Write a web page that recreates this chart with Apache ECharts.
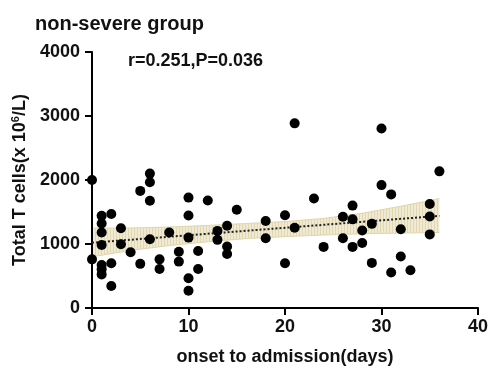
<!DOCTYPE html>
<html>
<head>
<meta charset="utf-8">
<script src="https://cdn.jsdelivr.net/npm/echarts@6/dist/echarts.min.js"></script>
<style>
  html, body { margin: 0; padding: 0; background: #fff; }
  #chart { width: 490px; height: 369px; }
</style>
</head>
<body>
<div id="chart"></div>
<script>
// days from onset to admission, and total T cells (x10^6/L)
const onsetDays = [
  0, 0,
  1, 1, 1, 1, 1, 1, 1,
  2, 2, 2,
  3, 3,
  4,
  5, 5,
  6, 6, 6, 6,
  7, 7,
  8,
  9, 9,
  10, 10, 10, 10, 10,
  11, 11,
  12,
  13, 13,
  14, 14, 14,
  15,
  18, 18,
  20, 20,
  21, 21,
  23,
  24,
  26, 26,
  27, 27, 27,
  28, 28,
  29, 29,
  30, 30,
  31, 31,
  32, 32,
  33,
  35, 35, 35,
  36
];
const tCells = [
  2000, 760,
  1440, 1320, 1180, 985, 670, 605, 525,
  1470, 700, 345,
  1245, 995,
  870,
  1830, 690,
  2100, 1965, 1675, 1075,
  760, 610,
  1180,
  880, 725,
  1725, 1445, 1100, 465, 270,
  890, 610,
  1680,
  1205, 1065,
  1285, 960, 845,
  1535,
  1360, 1090,
  1450, 700,
  2885, 1255,
  1710,
  955,
  1425, 1090,
  1600, 1385, 955,
  1210, 1015,
  1315, 705,
  2805, 1920,
  1775, 555,
  1230, 805,
  590,
  1625, 1430, 1150,
  2135
];

// fitted line end points and the confidence band
const fitDays = [0, 36];
const fitValues = [1020, 1440];
const bandDays = [0, 4, 8, 12, 16, 20, 24, 28, 32, 36];
const bandLower = [800, 900, 975, 1035, 1085, 1115, 1140, 1160, 1170, 1180];
const bandUpper = [1250, 1250, 1265, 1290, 1320, 1350, 1400, 1480, 1590, 1710];

const xTicks = [0, 10, 20, 30, 40];
const yTicks = [0, 1000, 2000, 3000, 4000];

// vertical hatch pattern used for the band
const hatch = document.createElement('canvas');
hatch.width = 3;
hatch.height = 4;
const hctx = hatch.getContext('2d');
hctx.fillStyle = '#f0ead4';
hctx.fillRect(0, 0, 3, 4);
hctx.fillStyle = '#e2d8b0';
hctx.fillRect(2, 0, 1, 4);

const font = '"Liberation Sans", Arial, Helvetica, sans-serif';
const chart = echarts.init(document.getElementById('chart'), null, { renderer: 'canvas' });

const points = onsetDays.map((d, i) => [d, tCells[i]]);
const fitLine = fitDays.map((d, i) => [d, fitValues[i]]);
const upperData = bandDays.map((d, i) => [d, bandUpper[i]]);
const lowerData = bandDays.map((d, i) => [d, bandLower[i]]);

const option = {
  animation: false,
  backgroundColor: '#ffffff',
  title: {
    text: 'non-severe group',
    left: 30,
    top: 9,
    textStyle: { fontFamily: font, fontSize: 20, fontWeight: 'bold', color: '#111' }
  },
  graphic: [{
    type: 'text',
    left: 128,
    top: 52,
    style: {
      text: 'r=0.251,P=0.036',
      font: 'bold 18px ' + font,
      fill: '#111'
    }
  }],
  grid: { left: 92, right: 12, top: 52, bottom: 61, containLabel: false, outerBoundsMode: 'none' },
  xAxis: {
    type: 'value',
    min: 0,
    max: 40,
    interval: 10,
    z: 3,
    name: 'onset to admission(days)',
    nameLocation: 'middle',
    nameGap: 40,
    nameTextStyle: { fontFamily: font, fontSize: 18, fontWeight: 'bold', color: '#111' },
    axisLine: { show: true, onZero: false, lineStyle: { color: '#000', width: 2 } },
    axisTick: { show: true, length: 7, lineStyle: { color: '#000', width: 2 } },
    axisLabel: {
      margin: 10,
      fontFamily: font, fontSize: 18, fontWeight: 'bold', color: '#111',
      formatter: v => xTicks.includes(v) ? String(v) : ''
    },
    splitLine: { show: false }
  },
  yAxis: {
    type: 'value',
    min: 0,
    max: 4000,
    interval: 1000,
    z: 3,
    name: 'Total T cells(x 10{sup|6}/L)',
    nameLocation: 'middle',
    nameRotate: 90,
    nameGap: 60,
    nameTextStyle: {
      fontFamily: font, fontSize: 18, fontWeight: 'bold', color: '#111',
      rich: {
        sup: { fontFamily: font, fontSize: 11, fontWeight: 'bold', color: '#111', verticalAlign: 'top', padding: [0, 0, 9, 0] }
      }
    },
    axisLine: { show: true, onZero: false, lineStyle: { color: '#000', width: 2 } },
    axisTick: { show: true, length: 7, lineStyle: { color: '#000', width: 2 } },
    axisLabel: {
      margin: 12,
      fontFamily: font, fontSize: 18, fontWeight: 'bold', color: '#111',
      formatter: v => yTicks.includes(v) ? String(v) : ''
    },
    splitLine: { show: false }
  },
  series: [
    {
      // upper edge of the band, hatched fill down to the axis
      name: 'band-upper',
      type: 'line',
      data: upperData,
      symbol: 'none',
      lineStyle: { color: '#e0d5aa', width: 1 },
      areaStyle: { color: { image: hatch, repeat: 'repeat' }, opacity: 1 },
      z: 1
    },
    {
      // lower edge of the band, white fill below it to leave only the band
      name: 'band-lower',
      type: 'line',
      data: lowerData,
      symbol: 'none',
      lineStyle: { color: '#e0d5aa', width: 1 },
      areaStyle: {
        color: '#ffffff',
        opacity: 1,
        shadowColor: '#ffffff',
        shadowBlur: 0,
        shadowOffsetX: 2
      },
      z: 2
    },
    {
      name: 'fit',
      type: 'line',
      data: fitLine,
      symbol: 'none',
      lineStyle: { color: '#222', width: 2, type: [2, 2] },
      z: 4
    },
    {
      name: 'patients',
      type: 'scatter',
      data: points,
      symbol: 'circle',
      symbolSize: 10,
      itemStyle: { color: '#000', opacity: 1 },
      z: 5
    }
  ]
};

chart.setOption(option);
</script>
</body>
</html>
